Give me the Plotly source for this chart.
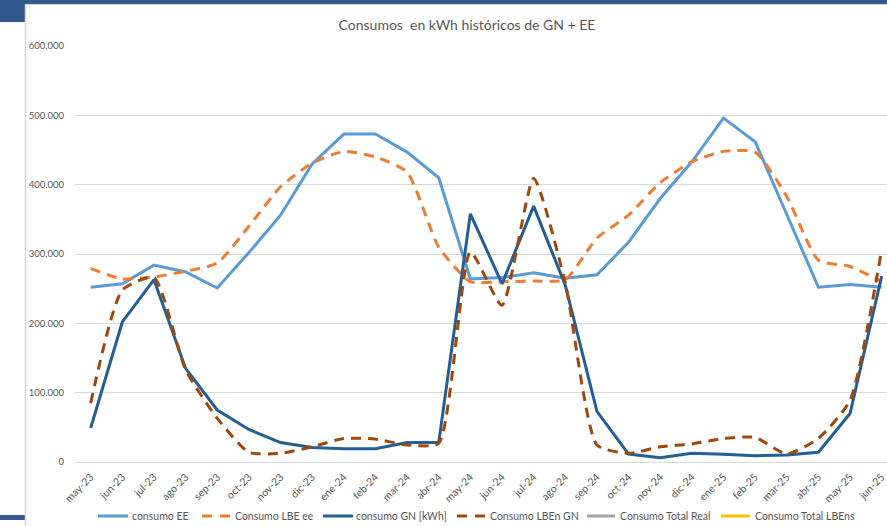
import plotly.graph_objects as go

# Monthly periods
months = ["may-23", "jun-23", "jul-23", "ago-23", "sep-23", "oct-23", "nov-23", "dic-23",
          "ene-24", "feb-24", "mar-24", "abr-24", "may-24", "jun-24", "jul-24", "ago-24",
          "sep-24", "oct-24", "nov-24", "dic-24", "ene-25", "feb-25", "mar-25", "abr-25",
          "may-25", "jun-25"]

# Consumption series (kWh)
consumo_ee = [252000, 257000, 284000, 274000, 251000, 302000, 356000, 430000,
              473000, 473000, 447000, 410000, 264000, 266000, 273000, 265000,
              270000, 317000, 380000, 433000, 496000, 462000, 357000, 252000,
              256000, 252000]
consumo_lbe_ee = [279000, 264000, 267000, 275000, 287000, 340000, 397000, 431000,
                  448000, 440000, 418000, 310000, 260000, 260000, 261000, 263000,
                  323000, 356000, 403000, 433000, 448000, 447000, 383000, 291000,
                  282000, 260000]
consumo_gn = [49000, 202000, 263000, 135000, 75000, 47000, 28000, 21000,
              19000, 19000, 28000, 28000, 358000, 257000, 369000, 255000,
              73000, 11500, 6200, 12500, 11000, 9000, 10000, 14000,
              70000, 268000]
consumo_lben_gn = [85000, 248000, 266000, 133000, 63000, 14000, 12500, 22000,
                   34000, 33000, 24500, 27000, 303000, 226000, 409000, 258000,
                   24500, 12500, 22000, 26000, 34000, 35500, 11500, 34000,
                   89000, 306000]
consumo_total_real = []
consumo_total_lbens = []

y_ticks = [0, 100000, 200000, 300000, 400000, 500000, 600000]

W, H = 887, 526
ML, MR, MT, MB = 75, 0, 46, 64
PW, PH = W - ML - MR, H - MT - MB

FONT = "Lato"
TXT = "#595959"


def px(x):
    return (x - ML) / PW


def py(y):
    return (H - MB - y) / PH


series = [
    dict(name="consumo EE", y=consumo_ee, color="#5B9BD5", dash="solid", shape="linear"),
    dict(name="Consumo LBE ee", y=consumo_lbe_ee, color="#ED7D31", dash="10px,7px", shape="spline"),
    dict(name="consumo GN [kWh]", y=consumo_gn, color="#255E91", dash="solid", shape="linear"),
    dict(name="Consumo LBEn GN", y=consumo_lben_gn, color="#9E480E", dash="10px,7px", shape="spline"),
    dict(name="Consumo Total Real", y=consumo_total_real, color="#A5A5A5", dash="solid", shape="linear"),
    dict(name="Consumo Total LBEns", y=consumo_total_lbens, color="#FFC000", dash="solid", shape="linear"),
]

fig = go.Figure()
for s in series:
    fig.add_trace(go.Scatter(
        x=list(range(len(s["y"]))), y=s["y"], name=s["name"], mode="lines",
        line=dict(color=s["color"], width=3, dash=s["dash"], shape=s["shape"], smoothing=0.55),
        showlegend=False,
    ))

shapes = []
annotations = []

# Legend row along the bottom
legend_pos = [(98, 128, 130), (202, 230, 233), (323, 353, 354),
              (457, 485, 488), (587, 615, 618), (721, 750, 753)]
LY = 516
for s, (x0, x1, xt) in zip(series, legend_pos):
    shapes.append(dict(type="line", xref="paper", yref="paper",
                       x0=px(x0), x1=px(x1), y0=py(LY), y1=py(LY),
                       line=dict(color=s["color"], width=3,
                                 dash="10px,8px" if s["dash"] != "solid" else "solid")))
    annotations.append(dict(xref="paper", yref="paper", x=px(xt), y=py(LY),
                            xanchor="left", yanchor="middle", showarrow=False,
                            text=s["name"], font=dict(family=FONT, size=10.5, color=TXT)))

# Window frame: header bar, side panel and border lines
shapes += [
    dict(type="rect", xref="paper", yref="paper", x0=px(0), x1=px(W), y0=py(0), y1=py(4),
         fillcolor="#34588C", line=dict(width=0), layer="above"),
    dict(type="line", xref="paper", yref="paper", x0=px(25), x1=px(W), y0=py(4.5), y1=py(4.5),
         line=dict(color="#D6D6D6", width=1)),
    dict(type="rect", xref="paper", yref="paper", x0=px(0), x1=px(25), y0=py(0), y1=py(22),
         fillcolor="#34588C", line=dict(width=0)),
    dict(type="rect", xref="paper", yref="paper", x0=px(0), x1=px(25), y0=py(515), y1=py(520),
         fillcolor="#34588C", line=dict(width=0)),
    dict(type="line", xref="paper", yref="paper", x0=px(25.5), x1=px(25.5), y0=py(4), y1=py(H),
         line=dict(color="#D6D6D6", width=1.5)),
]

fig.update_layout(
    width=W, height=H,
    margin=dict(l=ML, r=MR, t=MT, b=MB, pad=0),
    paper_bgcolor="white", plot_bgcolor="white",
    separators=",.",
    title=dict(text="Consumos\u00a0 en kWh históricos de GN + EE",
               x=px(467), xref="paper", xanchor="center",
               y=1 - 25 / H, yanchor="middle",
               font=dict(family=FONT, size=14, color=TXT)),
    xaxis=dict(
        range=[-0.496, 25.168], tickmode="array",
        tickvals=list(range(len(months))), ticktext=months,
        tickangle=-45, showgrid=False, zeroline=False, showline=False,
        ticks="", ticklabelstandoff=6,
        tickfont=dict(family=FONT, size=10.5, color=TXT),
    ),
    yaxis=dict(
        range=[0, 600000], tickmode="array", tickvals=y_ticks,
        tickformat=",.0f", showgrid=True, gridcolor="#D9D9D9", gridwidth=1,
        zeroline=True, zerolinecolor="#D9D9D9", zerolinewidth=1,
        showline=False, ticks="", ticklabelstandoff=10,
        tickfont=dict(family=FONT, size=9.5, color=TXT),
    ),
    shapes=shapes,
    annotations=annotations,
)

fig.write_html("out.html")
